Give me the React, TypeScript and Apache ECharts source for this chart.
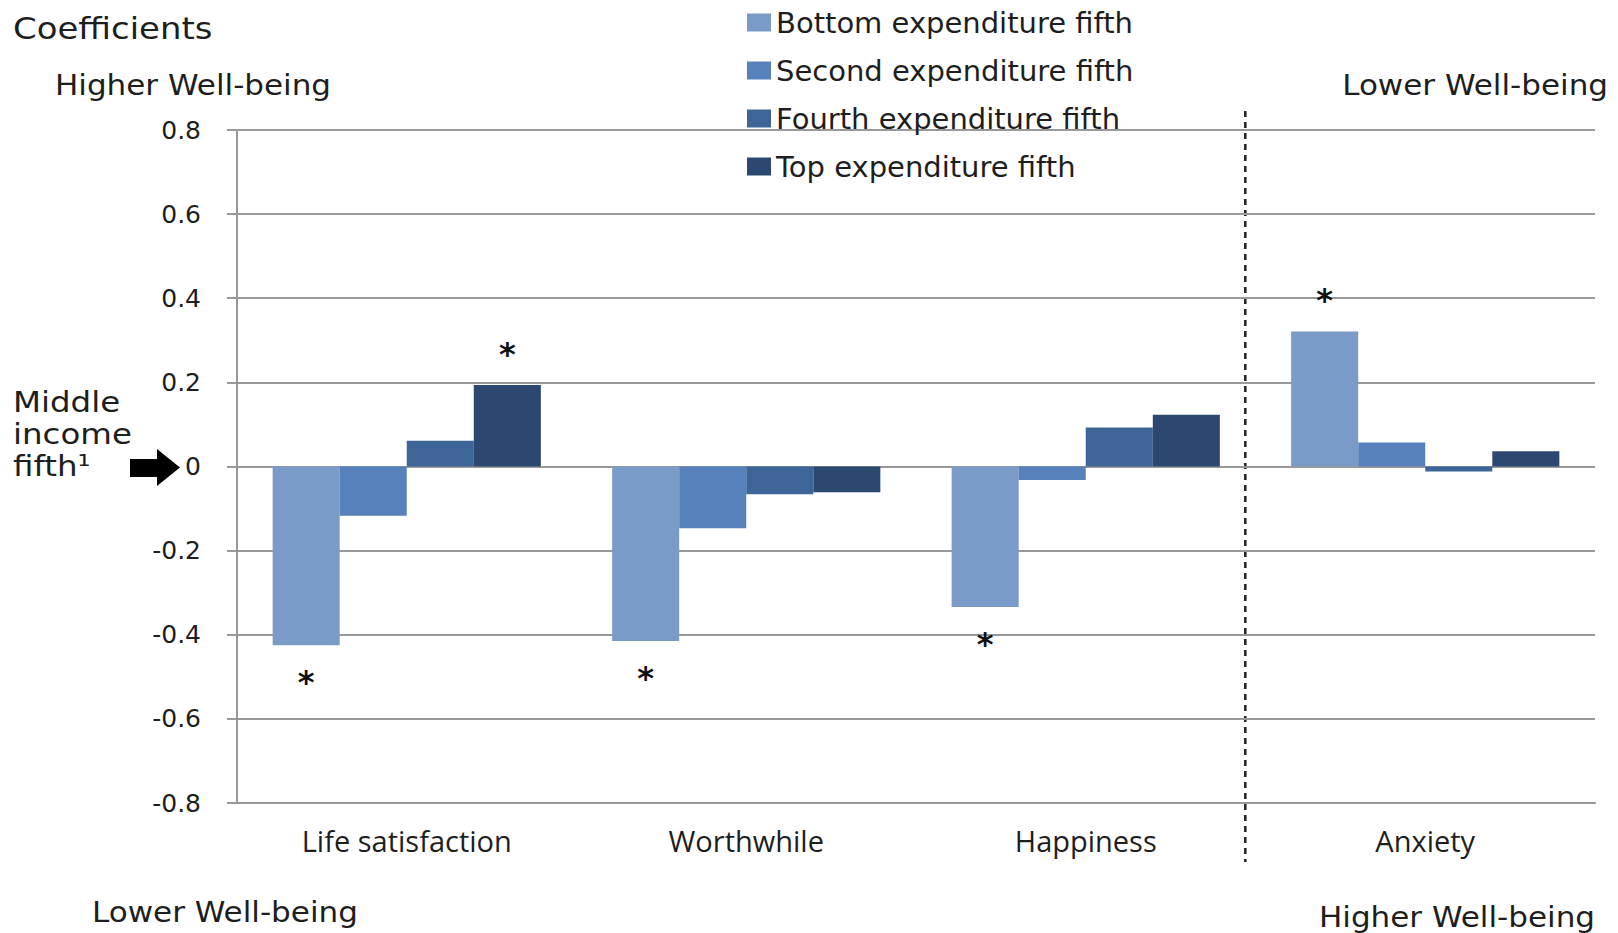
import React, { useEffect, useRef } from "react";
import * as echarts from "echarts";

const categories = ["Life satisfaction", "Worthwhile", "Happiness", "Anxiety"];
const seriesNames = [
  "Bottom expenditure fifth",
  "Second expenditure fifth",
  "Fourth expenditure fifth",
  "Top expenditure fifth",
];
const bottomFifth = [-0.425, -0.415, -0.334, 0.321];
const secondFifth = [-0.117, -0.147, -0.032, 0.057];
const fourthFifth = [0.061, -0.066, 0.093, -0.012];
const topFifth = [0.194, -0.061, 0.123, 0.036];
const significant = [
  [true, true, true, true],
  [false, false, false, false],
  [false, false, false, false],
  [true, false, false, false],
];
const colors = ["#7a9bc8", "#5781bb", "#3d6597", "#2c4870"];
const yTicks = { min: -0.8, max: 0.8, interval: 0.2 };

const FONT = "DejaVu Sans";
const TXT = "#1e1e1e";

function makeData(values: number[], sig: boolean[]) {
  return values.map((v, i) =>
    sig[i]
      ? {
          value: v,
          label: {
            show: true,
            formatter: "*",
            position: v < 0 ? "bottom" : "top",
            distance: v < 0 ? 21 : 15,
            fontSize: 32,
            fontWeight: "bold",
            fontFamily: FONT,
            color: "#111",
          },
        }
      : v
  );
}

export default function App() {
  const ref = useRef<HTMLDivElement>(null);
  useEffect(() => {
    if (!ref.current) return;
    const chart = echarts.init(ref.current, null, { renderer: "svg" });
    const all = [bottomFifth, secondFifth, fourthFifth, topFifth];
    const text = (
      t: string,
      x: number,
      y: number,
      size: number,
      sx: number,
      align: string = "left"
    ) => ({
      type: "text",
      x,
      y,
      scaleX: sx,
      style: {
        text: t,
        x: 0,
        y: 0,
        fontSize: size,
        fontFamily: FONT,
        fill: TXT,
        textAlign: align,
        textVerticalAlign: "middle",
        align,
        verticalAlign: "middle",
      },
    });
    chart.setOption({
      animation: false,
      backgroundColor: "#fff",
      grid: { left: 237, right: 23, top: 130, bottom: 130, containLabel: false },
      legend: {
        orient: "vertical",
        left: 747,
        top: 8,
        padding: 0,
        itemWidth: 24,
        itemHeight: 18,
        itemGap: 19,
        icon: "rect",
        data: seriesNames,
        textStyle: { fontSize: 29, lineHeight: 27, fontFamily: FONT, color: TXT },
      },
      xAxis: {
        type: "category",
        data: categories,
        axisLine: { show: true, onZero: false, lineStyle: { color: "#999", width: 2 } },
        axisTick: { show: false },
        axisLabel: { fontSize: 29, fontFamily: "Open Sans", color: TXT, margin: 23 },
      },
      yAxis: {
        type: "value",
        min: yTicks.min,
        max: yTicks.max,
        interval: yTicks.interval,
        axisLine: { show: true, lineStyle: { color: "#999", width: 2 } },
        axisTick: { show: true, length: 10, lineStyle: { color: "#999", width: 2 } },
        splitLine: { show: true, lineStyle: { color: "#999", width: 2 } },
        axisLabel: {
          fontSize: 25,
          fontFamily: FONT,
          color: TXT,
          margin: 36,
          formatter: (v: number) => {
            const r = Math.round(v * 10) / 10;
            return r === 0 ? "0" : r.toFixed(1);
          },
        },
      },
      series: all.map((vals, i) => ({
        name: seriesNames[i],
        type: "bar",
        data: makeData(vals, significant[i]),
        itemStyle: { color: colors[i] },
        barGap: "0%",
        barCategoryGap: "21%",
      })),
      graphic: [
        { id: "t1", ...text("Coefficients", 13, 29, 30, 1.13) },
        { id: "t2", ...text("Higher Well-being", 55, 85, 29, 1.07) },
        { id: "t3", ...text("Lower Well-being", 1608, 85, 29, 1.07, "right") },
        { id: "t4", ...text("Lower Well-being", 92, 912, 29, 1.07) },
        { id: "t5", ...text("Higher Well-being", 1595, 917, 29, 1.07, "right") },
        { id: "t6", ...text("Middle", 13, 402, 29, 1.12) },
        { id: "t7", ...text("income", 13, 434, 29, 1.12) },
        { id: "t8", ...text("fifth¹", 13, 466, 29, 1.12) },
        {
          id: "arrow",
          type: "polygon",
          shape: {
            points: [
              [130, 459],
              [157, 459],
              [157, 449],
              [180, 467.5],
              [157, 486],
              [157, 477],
              [130, 477],
            ],
          },
          style: { fill: "#000" },
        },
      ],
    });
    const p2 = chart.convertToPixel({ xAxisIndex: 0 }, categories[2]) as number;
    const p3 = chart.convertToPixel({ xAxisIndex: 0 }, categories[3]) as number;
    const dx = p2 + (p3 - p2) * 0.47;
    chart.setOption({
      graphic: [
        {
          id: "divider",
          type: "line",
          shape: { x1: dx, y1: 111, x2: dx, y2: 862 },
          style: { stroke: "#222", lineWidth: 2.5, lineDash: [6, 5] },
        },
      ],
    });
    return () => chart.dispose();
  }, []);
  return (
    <div
      ref={ref}
      style={{ position: "fixed", left: 0, top: 0, width: 1618, height: 933 }}
    />
  );
}
